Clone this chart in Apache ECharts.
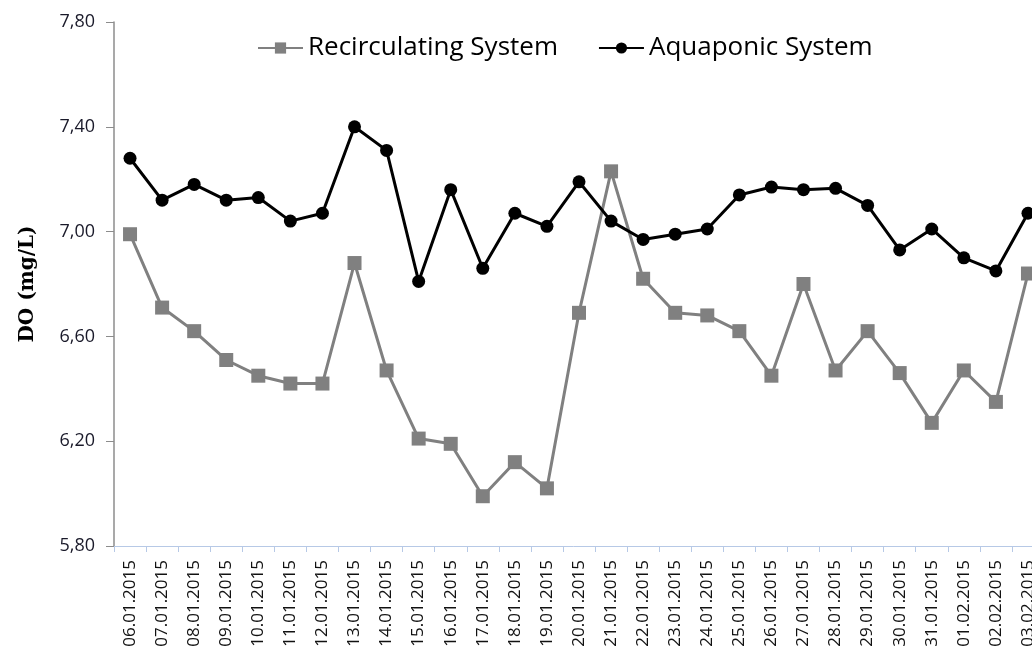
<!DOCTYPE html>
<html>
<head>
<meta charset="utf-8">
<script src="https://cdn.jsdelivr.net/npm/echarts@6/dist/echarts.min.js"></script>
<style>
  html, body { margin: 0; padding: 0; background: #fff; }
  #chart { width: 1032px; height: 656px; }
</style>
</head>
<body>
<div id="chart"></div>
<script>
// sampling dates
var dates = [
  '06.01.2015', '07.01.2015', '08.01.2015', '09.01.2015', '10.01.2015',
  '11.01.2015', '12.01.2015', '13.01.2015', '14.01.2015', '15.01.2015',
  '16.01.2015', '17.01.2015', '18.01.2015', '19.01.2015', '20.01.2015',
  '21.01.2015', '22.01.2015', '23.01.2015', '24.01.2015', '25.01.2015',
  '26.01.2015', '27.01.2015', '28.01.2015', '29.01.2015', '30.01.2015',
  '31.01.2015', '01.02.2015', '02.02.2015', '03.02.2015'
];

// DO values (mg/L)
var recirculating = [
  6.99, 6.71, 6.62, 6.51, 6.45, 6.42, 6.42, 6.88, 6.47, 6.21,
  6.19, 5.99, 6.12, 6.02, 6.69, 7.23, 6.82, 6.69, 6.68, 6.62,
  6.45, 6.80, 6.47, 6.62, 6.46, 6.27, 6.47, 6.35, 6.84
];
var aquaponic = [
  7.28, 7.12, 7.18, 7.12, 7.13, 7.04, 7.07, 7.40, 7.31, 6.81,
  7.16, 6.86, 7.07, 7.02, 7.19, 7.04, 6.97, 6.99, 7.01, 7.14,
  7.17, 7.16, 7.165, 7.10, 6.93, 7.01, 6.90, 6.85, 7.07
];

var yMin = 5.8, yMax = 7.8, yStep = 0.4;

var chart = echarts.init(document.getElementById('chart'), null, { renderer: 'canvas' });

var option = {
  animation: false,
  backgroundColor: '#fff',
  legend: {
    top: 30,
    left: 252,
    itemWidth: 45,
    itemHeight: 14,
    itemGap: 40,
    textStyle: { fontFamily: 'Open Sans', fontSize: 26, color: '#000' },
    data: ['Recirculating System', 'Aquaponic System']
  },
  grid: {
    left: 114,
    top: 22,
    width: 930,
    height: 524,
    outerBoundsMode: 'none',
    containLabel: false
  },
  xAxis: {
    type: 'category',
    data: dates,
    boundaryGap: true,
    axisLine: { lineStyle: { color: '#b7c9e6', width: 1 } },
    axisTick: { show: true, length: 6, lineStyle: { color: '#b7c9e6' } },
    axisLabel: {
      rotate: 90,
      interval: 0,
      margin: 14,
      fontFamily: 'Open Sans',
      fontSize: 17,
      color: '#111'
    },
    splitLine: { show: false }
  },
  yAxis: {
    type: 'value',
    min: yMin,
    max: yMax,
    interval: yStep,
    name: 'DO (mg/L)',
    nameLocation: 'middle',
    nameGap: 76,
    nameRotate: 90,
    nameTextStyle: {
      fontFamily: 'DejaVu Serif',
      fontWeight: 'bold',
      fontSize: 20,
      color: '#000'
    },
    axisLine: { show: true, lineStyle: { color: '#8c8c8c', width: 1.5 } },
    axisTick: { show: true, inside: false, length: 8, lineStyle: { color: '#8c8c8c' } },
    axisLabel: {
      margin: 19,
      fontFamily: 'Open Sans',
      fontSize: 18,
      color: '#1a1a2a',
      formatter: function (v) { return v.toFixed(2).replace('.', ','); }
    },
    splitLine: { show: false }
  },
  series: [
    {
      name: 'Recirculating System',
      type: 'line',
      data: recirculating,
      symbol: 'rect',
      symbolSize: 14,
      lineStyle: { color: '#808080', width: 3 },
      itemStyle: { color: '#808080' },
      z: 2
    },
    {
      name: 'Aquaponic System',
      type: 'line',
      data: aquaponic,
      symbol: 'circle',
      symbolSize: 13,
      lineStyle: { color: '#000', width: 3 },
      itemStyle: { color: '#000' },
      z: 3
    }
  ]
};

chart.setOption(option);
</script>
</body>
</html>
